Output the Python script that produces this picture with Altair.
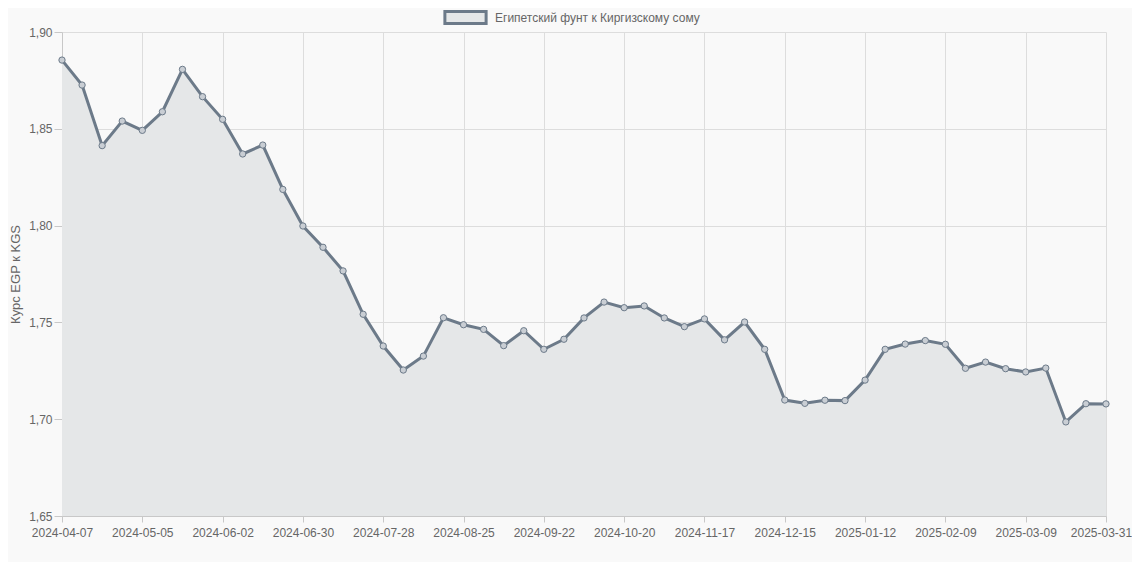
import altair as alt
import pandas as pd

dates = [
    "2024-04-07", "2024-04-14", "2024-04-21", "2024-04-28", "2024-05-05", "2024-05-12",
    "2024-05-19", "2024-05-26", "2024-06-02", "2024-06-09", "2024-06-16", "2024-06-23",
    "2024-06-30", "2024-07-07", "2024-07-14", "2024-07-21", "2024-07-28", "2024-08-04",
    "2024-08-11", "2024-08-18", "2024-08-25", "2024-09-01", "2024-09-08", "2024-09-15",
    "2024-09-22", "2024-09-29", "2024-10-06", "2024-10-13", "2024-10-20", "2024-10-27",
    "2024-11-03", "2024-11-10", "2024-11-17", "2024-11-24", "2024-12-01", "2024-12-08",
    "2024-12-15", "2024-12-22", "2024-12-29", "2025-01-05", "2025-01-12", "2025-01-19",
    "2025-01-26", "2025-02-02", "2025-02-09", "2025-02-16", "2025-02-23", "2025-03-02",
    "2025-03-09", "2025-03-16", "2025-03-23", "2025-03-30", "2025-03-31",
]

rates = [
    1.8855, 1.8726, 1.8413, 1.8540, 1.8492, 1.8588, 1.8807, 1.8666, 1.8549, 1.8370,
    1.8416, 1.8187, 1.7998, 1.7888, 1.7766, 1.7542, 1.7378, 1.7254, 1.7326, 1.7524,
    1.7488, 1.7464, 1.7380, 1.7457, 1.7361, 1.7413, 1.7523, 1.7605, 1.7576, 1.7585,
    1.7523, 1.7478, 1.7518, 1.7410, 1.7502, 1.7361, 1.7099, 1.7082, 1.7098, 1.7096,
    1.7202, 1.7361, 1.7388, 1.7406, 1.7387, 1.7263, 1.7295, 1.7261, 1.7244, 1.7264,
    1.6986, 1.7080, 1.7079,
]

tick_labels = [
    "2024-04-07", "2024-05-05", "2024-06-02", "2024-06-30", "2024-07-28", "2024-08-25",
    "2024-09-22", "2024-10-20", "2024-11-17", "2024-12-15", "2025-01-12", "2025-02-09",
    "2025-03-09", "2025-03-31",
]

y_ticks = [1.65, 1.70, 1.75, 1.80, 1.85, 1.90]

series_name = "Египетский фунт к Киргизскому сому"

df = pd.DataFrame({"date": dates, "rate": rates, "series": series_name})

LINE = "#6c7a89"
FILL = "#e5e7e8"
FONT = "Liberation Sans"

x_enc = alt.X(
    "date:O",
    sort=None,
    scale=alt.Scale(type="point", padding=0),
    axis=alt.Axis(
        values=tick_labels,
        labelAngle=0,
        title=None,
        grid=True,
        tickSize=6,
        labelPadding=5,
        labelOffset={
            "condition": {"test": "datum.value == '2025-03-31'", "value": -5},
            "value": 0,
        },
    ),
)
y_scale = alt.Scale(domain=[1.65, 1.90], zero=False, nice=False)
y_enc = alt.Y(
    "rate:Q",
    scale=y_scale,
    axis=alt.Axis(
        values=y_ticks,
        title="Курс EGP к KGS",
        labelExpr="replace(format(datum.value, '.2f'), '.', ',')",
        tickSize=8,
        labelPadding=2,
        titlePadding=6,
    ),
)

base = alt.Chart(df)

area = base.mark_area(opacity=1).encode(
    x=x_enc,
    y=y_enc,
    y2=alt.datum(1.65),
    color=alt.Color(
        "series:N",
        scale=alt.Scale(range=[FILL]),
        legend=alt.Legend(
            title=None,
            orient="none",
            legendX=381,
            legendY=-37,
            symbolType="M-1,-0.29H1V0.29H-1Z",
            symbolSize=1700,
            symbolFillColor=FILL,
            symbolStrokeColor=LINE,
            symbolStrokeWidth=3,
            symbolOpacity=1,
            labelFont=FONT,
            labelFontSize=12,
            labelColor="#666666",
            labelOffset=7,
            labelLimit=0,
        ),
    ),
)

line = base.mark_line(color=LINE, strokeWidth=3).encode(x=x_enc, y=y_enc)

points = base.mark_point(
    filled=True,
    fill="#c9ced4",
    stroke=LINE,
    strokeWidth=1,
    size=40,
    opacity=1,
    shape="circle",
).encode(x=x_enc, y=y_enc)

chart = (
    alt.layer(area, line, points)
    .properties(
        width=1044,
        height=484,
        background="#f9f9f9",
        autosize=alt.AutoSizeParams(type="none"),
        padding={"left": 54, "top": 24, "right": 26, "bottom": 46},
    )
    .configure_view(stroke=None, fill="#f9f9f9")
    .configure_axis(
        labelFont=FONT,
        labelFontSize=12,
        labelColor="#666666",
        titleFont=FONT,
        titleFontSize=13,
        titleFontWeight="normal",
        titleColor="#666666",
        gridColor="#dddddd",
        gridWidth=1,
        domainColor="#c8c8c8",
        tickColor="#c8c8c8",
    )
)

chart.save("out.html", embed_options={"renderer": "svg", "actions": False})
